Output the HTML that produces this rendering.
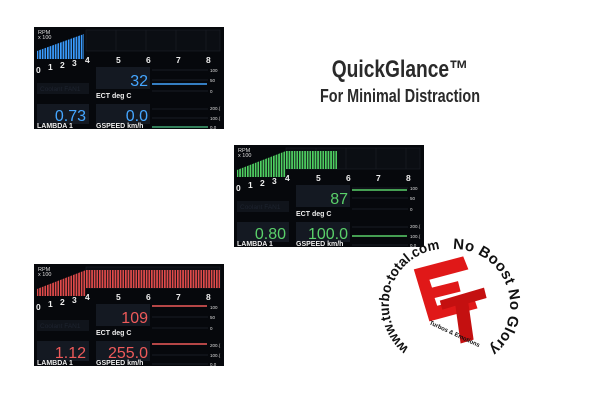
<!DOCTYPE html>
<html><head><meta charset="utf-8"><style>
body{margin:0;width:600px;height:400px;background:#fff;position:relative;overflow:hidden;font-family:"Liberation Sans",sans-serif}
svg.p{position:absolute;width:190px;height:102px}
.t{position:absolute;left:250px;width:300px;text-align:center;color:#2a2a2a;font-weight:bold;white-space:nowrap;font-family:"Liberation Sans",sans-serif}
</style></head><body>
<svg width="0" height="0" style="position:absolute"><defs>
<pattern id="sb" width="2.6" height="10" patternUnits="userSpaceOnUse"><rect width="1.7" height="10" fill="#3a9cff"/></pattern>
<pattern id="sg" width="2.6" height="10" patternUnits="userSpaceOnUse"><rect width="1.7" height="10" fill="#4fd062"/></pattern>
<pattern id="sr" width="2.6" height="10" patternUnits="userSpaceOnUse"><rect width="1.7" height="10" fill="#e04a4a"/></pattern>
</defs></svg>

<!-- Panel 1 blue -->
<svg class="p" style="left:34px;top:27px" viewBox="0 0 190 102" font-family="Liberation Sans, sans-serif">
<rect width="190" height="102" fill="#06080c"/>
<rect x="52" y="3" width="134" height="21" fill="#0b0e13" stroke="#1c2028" stroke-width="0.6"/>
<g stroke="#1c2028" stroke-width="0.6"><line x1="82" y1="3" x2="82" y2="24"/><line x1="112" y1="3" x2="112" y2="24"/><line x1="142" y1="3" x2="142" y2="24"/><line x1="172" y1="3" x2="172" y2="24"/></g>
<polygon points="3,32 3,24 50,7 50,32" fill="url(#sb)"/>
<text x="4" y="7" font-size="5.5" fill="#ddd">RPM</text><text x="4" y="12" font-size="5.5" fill="#ddd">x 100</text>
<g font-size="8.5" font-weight="bold" fill="#eee"><text x="2" y="46">0</text><text x="14" y="43">1</text><text x="26" y="41">2</text><text x="38" y="39">3</text><text x="51" y="36">4</text><text x="82" y="36">5</text><text x="112" y="36">6</text><text x="142" y="36">7</text><text x="172" y="36">8</text></g>
<rect x="62" y="40" width="54" height="22" fill="#141922"/>
<text x="114" y="59" font-size="16" fill="#45a6ff" text-anchor="end">32</text>
<text x="62" y="71" font-size="7" font-weight="bold" fill="#eee">ECT deg C</text>
<rect x="3" y="56" width="52" height="11" fill="#10141b"/>
<text x="6" y="64" font-size="6.5" fill="#1e2430">Coolant FAN1</text>
<g stroke="#2a303a" stroke-width="0.6"><line x1="118" y1="43" x2="174" y2="43"/><line x1="118" y1="53" x2="174" y2="53"/><line x1="118" y1="64" x2="174" y2="64"/><line x1="118" y1="82" x2="174" y2="82"/><line x1="118" y1="91" x2="174" y2="91"/></g>
<line x1="118" y1="57" x2="173" y2="57" stroke="#45a6ff" stroke-width="1.5"/>
<line x1="118" y1="100" x2="174" y2="100" stroke="#4fc88a" stroke-width="1.2"/>
<g font-size="4.5" fill="#ddd"><text x="176" y="45">100</text><text x="176" y="55">50</text><text x="176" y="66">0</text><text x="176" y="83">200.(</text><text x="176" y="93">100.(</text><text x="176" y="102">0.0</text></g>
<rect x="3" y="77" width="52" height="20" fill="#141922"/>
<text x="52" y="94" font-size="16" fill="#45a6ff" text-anchor="end">0.73</text>
<rect x="62" y="77" width="54" height="20" fill="#141922"/>
<text x="114" y="94" font-size="16" fill="#45a6ff" text-anchor="end">0.0</text>
<text x="3" y="101" font-size="7" font-weight="bold" fill="#eee">LAMBDA 1</text>
<text x="62" y="101" font-size="7" font-weight="bold" fill="#eee">GSPEED km/h</text>
</svg>

<!-- Panel 2 green -->
<svg class="p" style="left:234px;top:145px" viewBox="0 0 190 102" font-family="Liberation Sans, sans-serif">
<rect width="190" height="102" fill="#06080c"/>
<rect x="52" y="3" width="134" height="21" fill="#0b0e13" stroke="#1c2028" stroke-width="0.6"/>
<g stroke="#1c2028" stroke-width="0.6"><line x1="82" y1="3" x2="82" y2="24"/><line x1="112" y1="3" x2="112" y2="24"/><line x1="142" y1="3" x2="142" y2="24"/><line x1="172" y1="3" x2="172" y2="24"/></g>
<polygon points="3,32 3,25 52,6 103,6 103,24 52,24 52,32" fill="url(#sg)"/>
<text x="4" y="7" font-size="5.5" fill="#ddd">RPM</text><text x="4" y="12" font-size="5.5" fill="#ddd">x 100</text>
<g font-size="8.5" font-weight="bold" fill="#eee"><text x="2" y="46">0</text><text x="14" y="43">1</text><text x="26" y="41">2</text><text x="38" y="39">3</text><text x="51" y="36">4</text><text x="82" y="36">5</text><text x="112" y="36">6</text><text x="142" y="36">7</text><text x="172" y="36">8</text></g>
<rect x="62" y="40" width="54" height="22" fill="#141922"/>
<text x="114" y="59" font-size="16" fill="#5ad06a" text-anchor="end">87</text>
<text x="62" y="71" font-size="7" font-weight="bold" fill="#eee">ECT deg C</text>
<rect x="3" y="56" width="52" height="11" fill="#10141b"/>
<text x="6" y="64" font-size="6.5" fill="#1e2430">Coolant FAN1</text>
<g stroke="#2a303a" stroke-width="0.6"><line x1="118" y1="43" x2="174" y2="43"/><line x1="118" y1="53" x2="174" y2="53"/><line x1="118" y1="64" x2="174" y2="64"/><line x1="118" y1="82" x2="174" y2="82"/><line x1="118" y1="100" x2="174" y2="100"/></g>
<line x1="118" y1="45" x2="173" y2="45" stroke="#5ad06a" stroke-width="1.5"/>
<line x1="118" y1="91" x2="173" y2="91" stroke="#5ad06a" stroke-width="1.5"/>
<g font-size="4.5" fill="#ddd"><text x="176" y="45">100</text><text x="176" y="55">50</text><text x="176" y="66">0</text><text x="176" y="83">200.(</text><text x="176" y="93">100.(</text><text x="176" y="102">0.0</text></g>
<rect x="3" y="77" width="52" height="20" fill="#141922"/>
<text x="52" y="94" font-size="16" fill="#5ad06a" text-anchor="end">0.80</text>
<rect x="62" y="77" width="54" height="20" fill="#141922"/>
<text x="114" y="94" font-size="16" fill="#5ad06a" text-anchor="end">100.0</text>
<text x="3" y="101" font-size="7" font-weight="bold" fill="#eee">LAMBDA 1</text>
<text x="62" y="101" font-size="7" font-weight="bold" fill="#eee">GSPEED km/h</text>
</svg>

<!-- Panel 3 red -->
<svg class="p" style="left:34px;top:264px" viewBox="0 0 190 102" font-family="Liberation Sans, sans-serif">
<rect width="190" height="102" fill="#06080c"/>
<rect x="52" y="3" width="134" height="21" fill="#0b0e13" stroke="#1c2028" stroke-width="0.6"/>
<polygon points="3,32 3,25 52,6 186,6 186,24 52,24 52,32" fill="url(#sr)"/>
<text x="4" y="7" font-size="5.5" fill="#ddd">RPM</text><text x="4" y="12" font-size="5.5" fill="#ddd">x 100</text>
<g font-size="8.5" font-weight="bold" fill="#eee"><text x="2" y="46">0</text><text x="14" y="43">1</text><text x="26" y="41">2</text><text x="38" y="39">3</text><text x="51" y="36">4</text><text x="82" y="36">5</text><text x="112" y="36">6</text><text x="142" y="36">7</text><text x="172" y="36">8</text></g>
<rect x="62" y="40" width="54" height="22" fill="#141922"/>
<text x="114" y="59" font-size="16" fill="#ee5a5a" text-anchor="end">109</text>
<text x="62" y="71" font-size="7" font-weight="bold" fill="#eee">ECT deg C</text>
<rect x="3" y="56" width="52" height="11" fill="#10141b"/>
<text x="6" y="64" font-size="6.5" fill="#1e2430">Coolant FAN1</text>
<g stroke="#2a303a" stroke-width="0.6"><line x1="118" y1="53" x2="174" y2="53"/><line x1="118" y1="64" x2="174" y2="64"/><line x1="118" y1="91" x2="174" y2="91"/><line x1="118" y1="100" x2="174" y2="100"/></g>
<line x1="118" y1="42" x2="173" y2="42" stroke="#ee5a5a" stroke-width="1.5"/>
<line x1="118" y1="80" x2="173" y2="80" stroke="#ee5a5a" stroke-width="1.5"/>
<g font-size="4.5" fill="#ddd"><text x="176" y="45">100</text><text x="176" y="55">50</text><text x="176" y="66">0</text><text x="176" y="83">200.(</text><text x="176" y="93">100.(</text><text x="176" y="102">0.0</text></g>
<rect x="3" y="77" width="52" height="20" fill="#141922"/>
<text x="52" y="94" font-size="16" fill="#ee5a5a" text-anchor="end">1.12</text>
<rect x="62" y="77" width="54" height="20" fill="#141922"/>
<text x="114" y="94" font-size="16" fill="#ee5a5a" text-anchor="end">255.0</text>
<text x="3" y="101" font-size="7" font-weight="bold" fill="#eee">LAMBDA 1</text>
<text x="62" y="101" font-size="7" font-weight="bold" fill="#eee">GSPEED km/h</text>
</svg>

<div class="t" style="top:56px;font-size:24px;transform:scaleX(0.8)">QuickGlance™</div>
<div class="t" style="top:86px;font-size:18px;transform:scaleX(0.8)">For Minimal Distraction</div>

<!-- Logo -->
<svg style="position:absolute;left:365px;top:228px" width="170" height="160" viewBox="0 0 170 160" font-family="Liberation Sans, sans-serif">
<defs>
<path id="arcL" d="M44,120 A56,56 0 0 1 78,21"/>
<path id="arcR" d="M88,21 A56,56 0 0 1 90,133"/>
</defs>
<text font-size="14" font-weight="bold" fill="#111"><textPath href="#arcL" textLength="132" lengthAdjust="spacingAndGlyphs">www.turbo-total.com</textPath></text>
<text font-size="15" font-weight="bold" fill="#111" letter-spacing="0.3"><textPath href="#arcR">No Boost No Glory</textPath></text>
<g transform="translate(80,70) scale(1.3) translate(-74,-60)">
<polygon points="50,38 88,28 92,38 62,46 64,52 84,47 86,55 66,60 68,66 96,59 99,68 62,78" fill="#e01818"/>
<polygon points="70,62 104,52 106,60 92,64 96,92 86,95 82,66 72,69" fill="#c41010"/>
</g>
<text x="64" y="96" font-size="6" font-weight="bold" fill="#111" transform="rotate(25 64 96)">Turbos &amp; Emotions</text>
</svg>
</body></html>
